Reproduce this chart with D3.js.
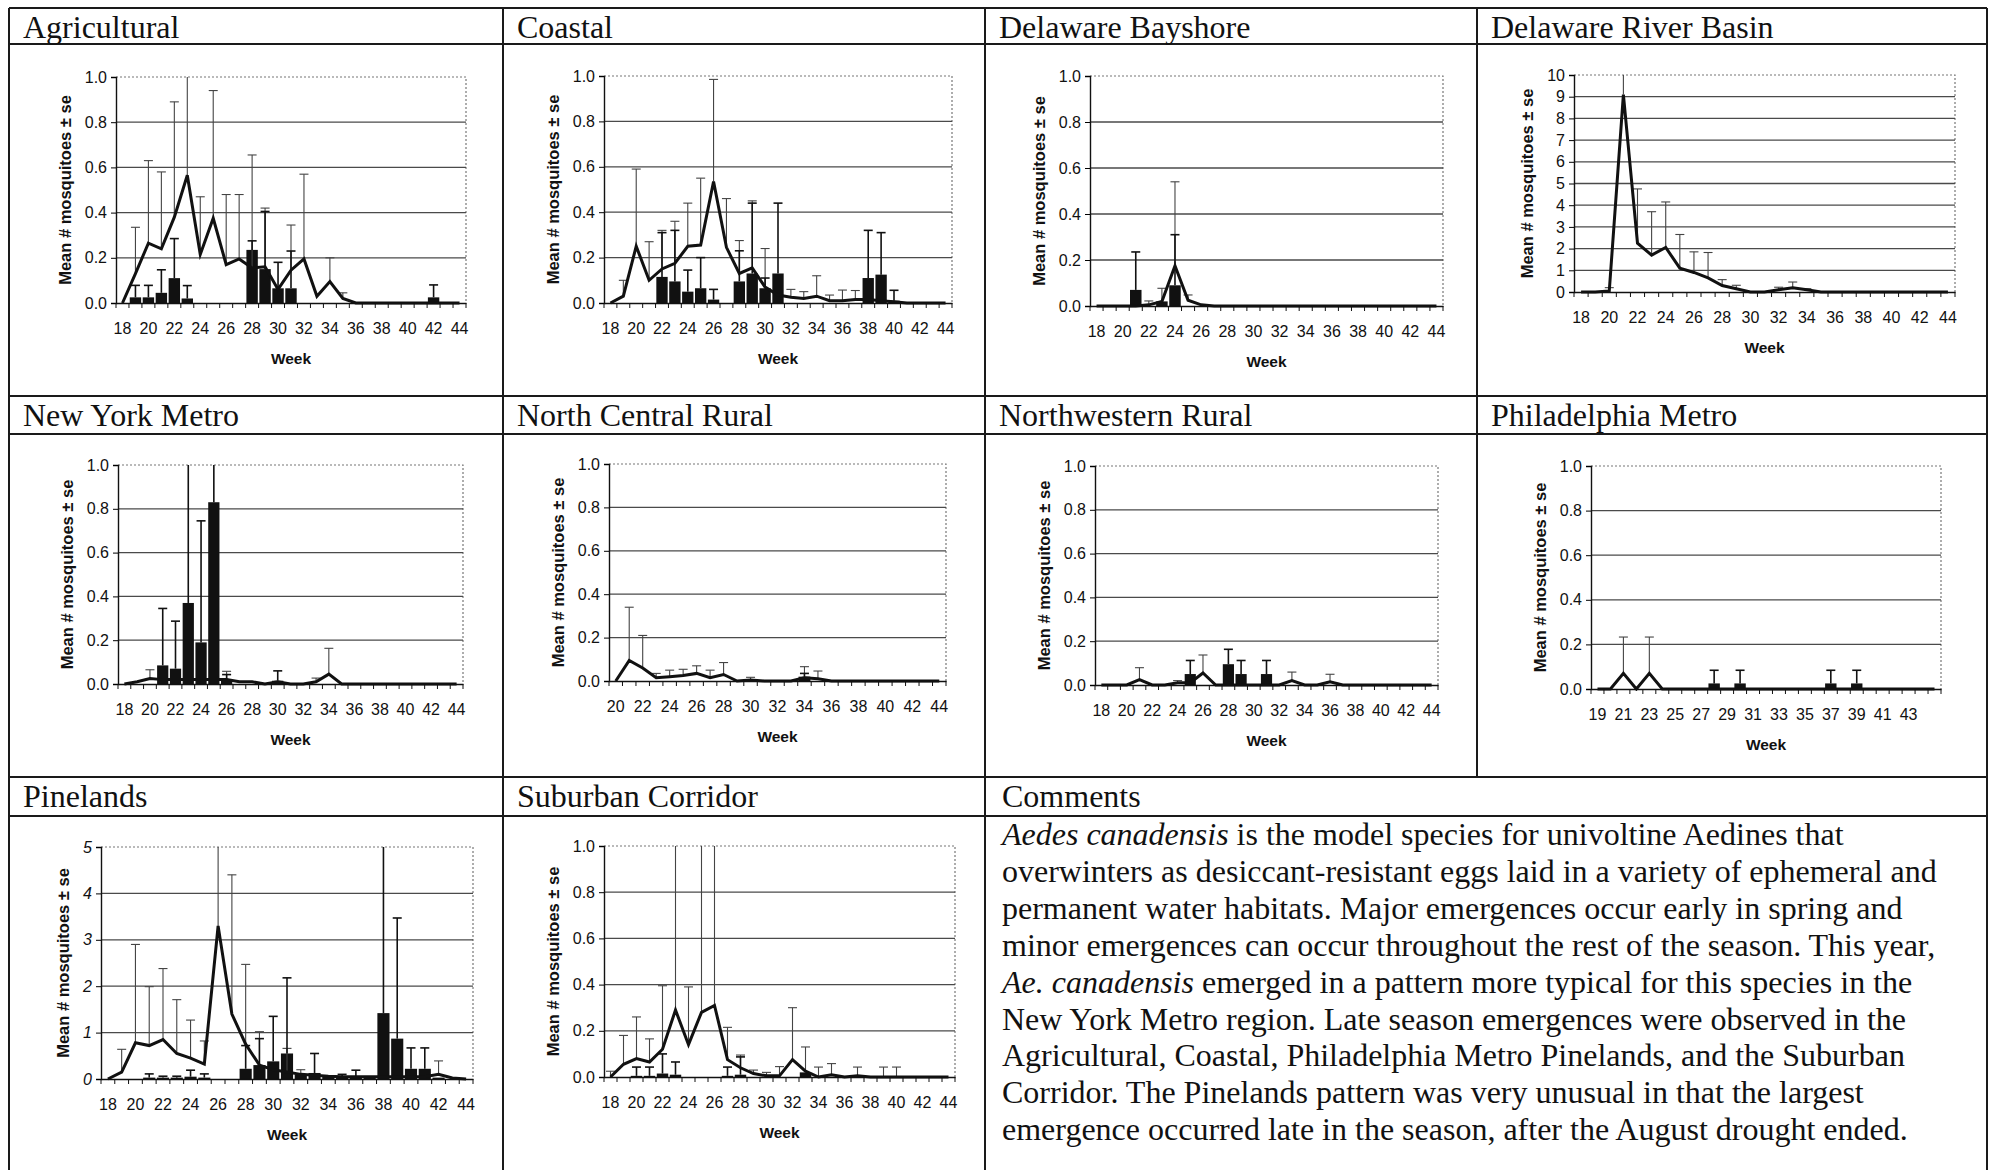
<!DOCTYPE html>
<html>
<head>
<meta charset="utf-8">
<script src="https://cdn.jsdelivr.net/npm/d3@7"></script>
<style>
  body { margin: 0; background: #fff; }
  svg text { font-family: "Liberation Sans", Arial, sans-serif; fill: #111; }
  svg .serif { font-family: "Liberation Serif", "Times New Roman", serif; }
</style>
</head>
<body>
<div id="chart"></div>
<script>
// ---- categories / tick labels ----
const weeks18 = [18,19,20,21,22,23,24,25,26,27,28,29,30,31,32,33,34,35,36,37,38,39,40,41,42,43,44];
const weeks20 = [20,21,22,23,24,25,26,27,28,29,30,31,32,33,34,35,36,37,38,39,40,41,42,43,44];
const weeks19 = [19,20,21,22,23,24,25,26,27,28,29,30,31,32,33,34,35,36,37,38,39,40,41,42,43,44,45];
const labels18 = [18,20,22,24,26,28,30,32,34,36,38,40,42,44];
const labels20 = [20,22,24,26,28,30,32,34,36,38,40,42,44];
const labels19 = [19,21,23,25,27,29,31,33,35,37,39,41,43];
const ticksFrac = [0,0.2,0.4,0.6,0.8,1.0];
const ticksTen = [0,1,2,3,4,5,6,7,8,9,10];
const ticksFive = [0,1,2,3,4,5];

// ---- series (line = mean per week, bars = second trap series, *Top = top of "+ se" bar) ----
const agriLine = [0,0.13,0.265,0.24,0.38,0.565,0.215,0.375,0.17,0.195,0.155,0.16,0.06,0.145,0.195,0.03,0.095,0.02,0,0,0,0,0,0,0,0,0];
const agriLineTop = [[19,0.335],[20,0.63],[21,0.58],[22,0.89],[23,1.2],[24,0.47],[25,0.94],[26,0.48],[27,0.48],[28,0.655],[29,0.42],[31,0.345],[32,0.57],[34,0.2],[35,0.045]];
const agriBars = [[19,0.025],[20,0.025],[21,0.045],[22,0.11],[23,0.02],[28,0.235],[29,0.15],[30,0.065],[31,0.065],[42,0.025]];
const agriBarTop = [[19,0.078],[20,0.078],[21,0.147],[22,0.285],[23,0.077],[28,0.275],[29,0.405],[30,0.18],[31,0.23],[42,0.08]];

const coastLine = [0,0.03,0.25,0.1,0.15,0.175,0.25,0.255,0.535,0.245,0.13,0.155,0.07,0.035,0.025,0.02,0.03,0.01,0.01,0.015,0.015,0.01,0.005,0,0,0,0];
const coastLineTop = [[19,0.1],[20,0.59],[21,0.27],[22,0.32],[23,0.36],[24,0.44],[25,0.55],[26,0.985],[27,0.46],[28,0.275],[29,0.45],[30,0.24],[32,0.06],[33,0.05],[34,0.12],[35,0.035],[36,0.057],[37,0.055]];
const coastBars = [[22,0.115],[23,0.095],[24,0.05],[25,0.065],[26,0.015],[28,0.095],[29,0.13],[30,0.065],[31,0.13],[38,0.11],[39,0.125],[40,0.01]];
const coastBarTop = [[22,0.31],[23,0.32],[24,0.145],[25,0.2],[26,0.06],[28,0.23],[29,0.44],[30,0.11],[31,0.44],[38,0.32],[39,0.31],[40,0.056]];

const bayLine = [0,0,0,0,0.005,0.02,0.175,0.025,0.005,0,0,0,0,0,0,0,0,0,0,0,0,0,0,0,0,0,0];
const bayLineTop = [[22,0.022],[23,0.077],[24,0.54],[25,0.048]];
const bayBars = [[21,0.07],[23,0.02],[24,0.09]];
const bayBarTop = [[21,0.235],[24,0.31]];

const riverLine = [0,0,0.05,9.1,2.25,1.7,2.05,1.1,0.9,0.65,0.3,0.15,0,0,0.1,0.2,0.1,0,0,0,0,0,0,0,0,0,0];
const riverLineTop = [[20,0.2],[21,10.5],[22,4.75],[23,3.7],[24,4.15],[25,2.65],[26,1.85],[27,1.82],[28,0.57],[29,0.31],[32,0.22],[33,0.46],[34,0.15]];
const riverBars = [];
const riverBarTop = [];

const nyLine = [0,0.01,0.025,0.02,0.02,0.02,0.02,0.02,0.02,0.01,0.01,0,0.01,0,0,0.01,0.045,0,0,0,0,0,0,0,0,0,0];
const nyLineTop = [[20,0.065],[26,0.058],[33,0.027],[34,0.163]];
const nyBars = [[21,0.085],[22,0.07],[23,0.37],[24,0.19],[25,0.83],[26,0.015],[30,0.015]];
const nyBarTop = [[21,0.345],[22,0.287],[23,1.2],[24,0.745],[25,1.2],[26,0.043],[30,0.06]];

const ncLine = [0,0.095,0.06,0.015,0.02,0.025,0.035,0.015,0.03,0,0.005,0,0,0,0.015,0.01,0,0,0,0,0,0,0,0,0];
const ncLineTop = [[21,0.34],[22,0.21],[23,0.035],[24,0.05],[25,0.054],[26,0.07],[27,0.05],[28,0.085],[30,0.017],[34,0.066],[35,0.046]];
const ncBars = [[34,0.02]];
const ncBarTop = [[34,0.035]];

const nwLine = [0,0,0,0.025,0,0,0.01,0.01,0.055,0,0,0,0,0,0,0.02,0,0,0.015,0,0,0,0,0,0,0,0];
const nwLineTop = [[21,0.079],[24,0.02],[26,0.137],[33,0.059],[36,0.049]];
const nwBars = [[25,0.05],[28,0.095],[29,0.05],[31,0.05]];
const nwBarTop = [[25,0.112],[28,0.163],[29,0.112],[31,0.112]];

const phLine = [0,0,0.07,0,0.07,0,0,0,0,0,0,0,0,0,0,0,0,0,0,0,0,0,0,0,0,0,0];
const phLineTop = [[21,0.233],[23,0.233]];
const phBars = [[28,0.025],[30,0.025],[37,0.025],[39,0.025]];
const phBarTop = [[28,0.084],[30,0.084],[37,0.084],[39,0.084]];

const pineLine = [0,0.15,0.78,0.72,0.85,0.55,0.45,0.32,3.3,1.4,0.75,0.3,0.2,0.15,0.1,0.08,0.06,0.05,0.05,0.05,0.05,0.05,0.05,0.05,0.1,0.02,0];
const pineLineTop = [[19,0.64],[20,2.9],[21,1.99],[22,2.38],[23,1.71],[24,1.27],[25,0.82],[26,5.5],[27,4.4],[28,2.47],[29,1.02],[31,0.66],[32,0.2],[42,0.39]];
const pineBars = [[21,0.03],[22,0.03],[23,0.03],[24,0.05],[25,0.03],[28,0.22],[29,0.3],[30,0.38],[31,0.55],[32,0.1],[33,0.13],[34,0.08],[35,0.05],[36,0.05],[37,0.05],[38,1.42],[39,0.87],[40,0.22],[41,0.22],[42,0.03]];
const pineBarTop = [[21,0.11],[22,0.06],[23,0.06],[24,0.19],[25,0.11],[28,0.72],[29,0.87],[30,1.35],[31,2.18],[33,0.55],[35,0.1],[36,0.19],[38,5.5],[39,3.47],[40,0.67],[41,0.67]];

const subLine = [0,0.055,0.08,0.065,0.12,0.29,0.14,0.28,0.31,0.075,0.04,0.015,0.005,0.005,0.075,0.025,0,0.01,0,0.005,0,0,0,0,0,0,0];
const subLineTop = [[18,0.025],[19,0.18],[20,0.26],[21,0.165],[22,0.395],[23,1.2],[24,0.39],[25,1.2],[26,1.2],[27,0.215],[28,0.095],[29,0.03],[30,0.02],[31,0.045],[32,0.3],[33,0.13],[34,0.043],[35,0.058],[37,0.043],[39,0.043],[40,0.043]];
const subBars = [[20,0.005],[21,0.005],[22,0.015],[23,0.01],[27,0.005],[28,0.01],[33,0.02]];
const subBarTop = [[20,0.043],[21,0.043],[22,0.1],[23,0.065],[27,0.043],[28,0.087]];

const commentLines = [
  [["Aedes canadensis", true], [" is the model species for univoltine Aedines that", false]],
  [["overwinters as desiccant-resistant eggs laid in a variety of ephemeral and", false]],
  [["permanent water habitats. Major emergences occur early in spring and", false]],
  [["minor emergences can occur throughout the rest of the season. This year,", false]],
  [["Ae. canadensis", true], [" emerged in a pattern more typical for this species in the", false]],
  [["New York Metro region. Late season emergences were observed in the", false]],
  [["Agricultural, Coastal, Philadelphia Metro Pinelands, and the Suburban", false]],
  [["Corridor. The Pinelands pattern was very unusual in that the largest", false]],
  [["emergence occurred late in the season, after the August drought ended.", false]]
];

// ---- layout ----
const width = 1992;
const height = 1170;
const cols = [9, 503, 985, 1477, 1987];
const rows = [
  { top: 8, head: 44, bottom: 396 },
  { top: 396, head: 434, bottom: 777 },
  { top: 777, head: 816, bottom: 1170 }
];
const frac = d3.format(".1f");
const whole = d3.format("d");

const panels = [
  { title: "Agricultural", c: 0, r: 0, box: [116, 466, 77, 303], weeks: weeks18, labels: labels18, yMax: 1, ticks: ticksFrac, fmt: frac, line: agriLine, lineTop: agriLineTop, bars: agriBars, barTop: agriBarTop },
  { title: "Coastal", c: 1, r: 0, box: [604, 952, 76, 303], weeks: weeks18, labels: labels18, yMax: 1, ticks: ticksFrac, fmt: frac, line: coastLine, lineTop: coastLineTop, bars: coastBars, barTop: coastBarTop },
  { title: "Delaware Bayshore", c: 2, r: 0, box: [1090, 1443, 76, 306], weeks: weeks18, labels: labels18, yMax: 1, ticks: ticksFrac, fmt: frac, line: bayLine, lineTop: bayLineTop, bars: bayBars, barTop: bayBarTop },
  { title: "Delaware River Basin", c: 3, r: 0, box: [1574, 1955, 75, 292], weeks: weeks18, labels: labels18, yMax: 10, ticks: ticksTen, fmt: whole, line: riverLine, lineTop: riverLineTop, bars: riverBars, barTop: riverBarTop },
  { title: "New York Metro", c: 0, r: 1, box: [118, 463, 465, 684], weeks: weeks18, labels: labels18, yMax: 1, ticks: ticksFrac, fmt: frac, line: nyLine, lineTop: nyLineTop, bars: nyBars, barTop: nyBarTop },
  { title: "North Central Rural", c: 1, r: 1, box: [609, 946, 464, 681], weeks: weeks20, labels: labels20, yMax: 1, ticks: ticksFrac, fmt: frac, line: ncLine, lineTop: ncLineTop, bars: ncBars, barTop: ncBarTop },
  { title: "Northwestern Rural", c: 2, r: 1, box: [1095, 1438, 466, 685], weeks: weeks18, labels: labels18, yMax: 1, ticks: ticksFrac, fmt: frac, line: nwLine, lineTop: nwLineTop, bars: nwBars, barTop: nwBarTop },
  { title: "Philadelphia Metro", c: 3, r: 1, box: [1591, 1941, 466, 689], weeks: weeks19, labels: labels19, yMax: 1, ticks: ticksFrac, fmt: frac, line: phLine, lineTop: phLineTop, bars: phBars, barTop: phBarTop },
  { title: "Pinelands", c: 0, r: 2, box: [101, 473, 847, 1079], weeks: weeks18, labels: labels18, yMax: 5, ticks: ticksFive, fmt: whole, italic: true, line: pineLine, lineTop: pineLineTop, bars: pineBars, barTop: pineBarTop },
  { title: "Suburban Corridor", c: 1, r: 2, box: [604, 955, 846, 1077], weeks: weeks18, labels: labels18, yMax: 1, ticks: ticksFrac, fmt: frac, line: subLine, lineTop: subLineTop, bars: subBars, barTop: subBarTop }
];

const svg = d3
  .select("#chart")
  .append("svg")
  .attr("width", width)
  .attr("height", height);

svg.append("rect").attr("width", width).attr("height", height).attr("fill", "#fff");

// ---- table frame ----
const frame = svg.append("g").attr("stroke", "#1a1a1a").attr("stroke-width", 2);
frame.append("line").attr("x1", cols[0]).attr("x2", cols[4]).attr("y1", rows[0].top).attr("y2", rows[0].top);
rows.forEach((r) => {
  frame.append("line").attr("x1", cols[0]).attr("x2", cols[4]).attr("y1", r.head).attr("y2", r.head);
  if (r.bottom < height) {
    frame.append("line").attr("x1", cols[0]).attr("x2", cols[4]).attr("y1", r.bottom).attr("y2", r.bottom);
  }
});
cols.forEach((cx, i) => {
  rows.forEach((r, j) => {
    if (j === 2 && i === 3) return; // comments cell spans two columns
    frame.append("line").attr("x1", cx).attr("x2", cx).attr("y1", r.top).attr("y2", r.bottom);
  });
});

// ---- one chart panel ----
function drawPanel(p, idx) {
  const [x0, x1, y0, y1] = p.box;
  const x = d3.scaleBand().domain(p.weeks).range([x0, x1]).padding(0);
  const y = d3.scaleLinear().domain([0, p.yMax]).range([y1, y0]);
  const bw = x.bandwidth();
  const cx = (w) => x(w) + bw / 2;
  const g = svg.append("g");

  svg
    .append("clipPath")
    .attr("id", "clip" + idx)
    .append("rect")
    .attr("x", x0 - 10)
    .attr("y", y0)
    .attr("width", x1 - x0 + 20)
    .attr("height", y1 - y0 + 2);

  // title
  g.append("text")
    .attr("class", "serif")
    .attr("x", cols[p.c] + 14)
    .attr("y", rows[p.r].top + 30)
    .attr("font-size", 32)
    .text(p.title);

  // dotted plot border (top + right)
  g.append("path")
    .attr("d", `M${x0},${y0}H${x1}V${y1}`)
    .attr("fill", "none")
    .attr("stroke", "#777")
    .attr("stroke-width", 1.2)
    .attr("stroke-dasharray", "2,2");

  // gridlines
  g.selectAll(".grid")
    .data(p.ticks.filter((t) => t > 0 && t < p.yMax))
    .join("line")
    .attr("x1", x0)
    .attr("x2", x1)
    .attr("y1", (d) => y(d))
    .attr("y2", (d) => y(d))
    .attr("stroke", "#4a4a4a")
    .attr("stroke-width", 1.3);

  const plot = g.append("g").attr("clip-path", `url(#clip${idx})`);

  // bars
  const barW = bw * 0.88;
  plot
    .selectAll(".bar")
    .data(p.bars)
    .join("rect")
    .attr("x", (d) => cx(d[0]) - barW / 2)
    .attr("y", (d) => y(d[1]))
    .attr("width", barW)
    .attr("height", (d) => y(0) - y(d[1]))
    .attr("fill", "#111");

  const barMap = new Map(p.bars);
  const lineMap = new Map(p.weeks.map((w, i) => [w, p.line[i]]));

  function errorBars(data, base, color, sw) {
    const eg = plot.append("g").attr("stroke", color).attr("stroke-width", sw);
    eg.selectAll("line.v")
      .data(data)
      .join("line")
      .attr("x1", (d) => cx(d[0]))
      .attr("x2", (d) => cx(d[0]))
      .attr("y1", (d) => y(base.get(d[0]) || 0))
      .attr("y2", (d) => y(d[1]));
    eg.selectAll("line.cap")
      .data(data.filter((d) => d[1] <= p.yMax))
      .join("line")
      .attr("x1", (d) => cx(d[0]) - 4.5)
      .attr("x2", (d) => cx(d[0]) + 4.5)
      .attr("y1", (d) => y(d[1]))
      .attr("y2", (d) => y(d[1]));
  }
  errorBars(p.lineTop, lineMap, "#444", 1.1);
  errorBars(p.barTop, barMap, "#111", 1.6);

  // mean line
  const line = d3
    .line()
    .x((d, i) => cx(p.weeks[i]))
    .y((d) => y(d));
  plot
    .append("path")
    .datum(p.line)
    .attr("d", line)
    .attr("fill", "none")
    .attr("stroke", "#111")
    .attr("stroke-width", 3)
    .attr("stroke-linejoin", "miter");

  // y axis
  const yAxis = g
    .append("g")
    .attr("transform", `translate(${x0},0)`)
    .call(d3.axisLeft(y).tickValues(p.ticks).tickFormat(p.fmt).tickSize(5).tickPadding(4));
  yAxis.attr("font-size", 16).attr("font-family", null);
  yAxis.select(".domain").attr("stroke", "#111").attr("stroke-width", 1.4);
  yAxis.selectAll("text").attr("font-style", p.italic ? "italic" : null);

  // x axis: labels at category centres, ticks at category boundaries
  const xAxis = g
    .append("g")
    .attr("transform", `translate(0,${y1})`)
    .call(
      d3
        .axisBottom(x)
        .tickValues(p.labels)
        .tickSize(0)
        .tickPadding(20)
    );
  xAxis.attr("font-size", 16).attr("font-family", null);
  xAxis.select(".domain").attr("stroke", "#111").attr("stroke-width", 1.4);
  g.selectAll(".xtick")
    .data(p.weeks.map((w) => x(w)).concat([x1]))
    .join("line")
    .attr("x1", (d) => d)
    .attr("x2", (d) => d)
    .attr("y1", y1)
    .attr("y2", y1 + 5)
    .attr("stroke", "#111")
    .attr("stroke-width", 1);

  // axis titles
  g.append("text")
    .attr("x", (x0 + x1) / 2)
    .attr("y", y1 + 61)
    .attr("text-anchor", "middle")
    .attr("font-size", 15.5)
    .attr("font-weight", "bold")
    .text("Week");

  let maxW = 0;
  yAxis.selectAll("text").each(function () {
    maxW = Math.max(maxW, this.getComputedTextLength());
  });
  const ty = x0 - 9 - maxW - 20;
  g.append("text")
    .attr("transform", `translate(${ty},${(y0 + y1) / 2}) rotate(-90)`)
    .attr("text-anchor", "middle")
    .attr("dominant-baseline", "central")
    .attr("font-size", 16.5)
    .attr("font-weight", "bold")
    .text("Mean # mosquitoes \u00b1 se");
}

panels.forEach(drawPanel);

// ---- comments cell ----
svg
  .append("text")
  .attr("class", "serif")
  .attr("x", cols[2] + 17)
  .attr("y", rows[2].top + 30)
  .attr("font-size", 32)
  .text("Comments");

const body = svg
  .append("text")
  .attr("class", "serif")
  .attr("font-size", 32);
commentLines.forEach((parts, i) => {
  const t = body
    .append("tspan")
    .attr("x", cols[2] + 17)
    .attr("y", 845 + i * 36.9);
  parts.forEach(([s, it]) => {
    t.append("tspan").attr("font-style", it ? "italic" : null).text(s);
  });
});
</script>
</body>
</html>
